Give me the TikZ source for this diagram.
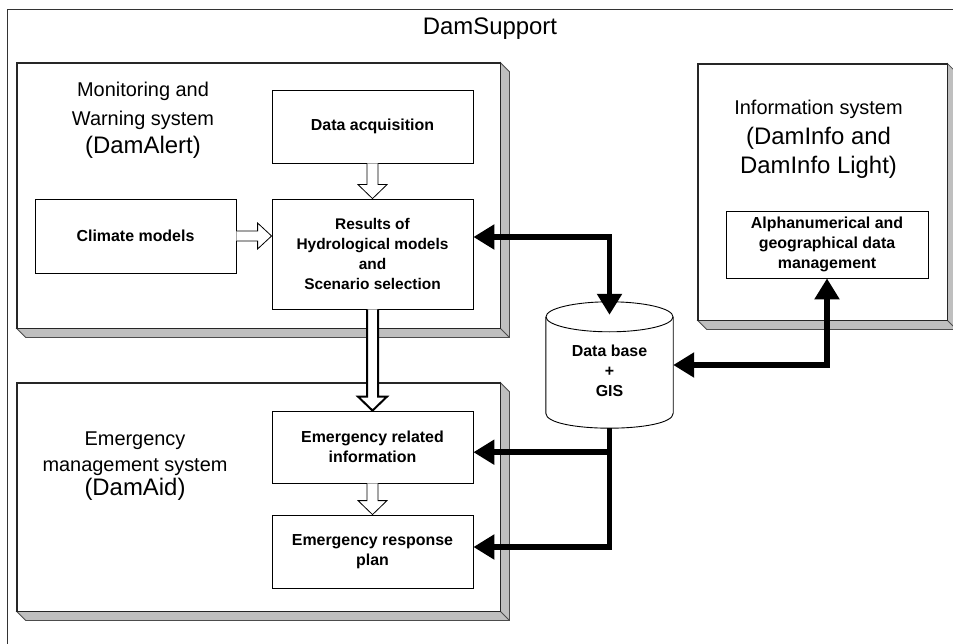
\documentclass[tikz,border=0pt]{standalone}
\usepackage{fontspec}
\setmainfont{Liberation Sans}
\usetikzlibrary{arrows.meta,calc}
\newcommand\boxshadow[1]{%
  \filldraw[shade3d] (#1.north east) -- ++(9,9) -- ($(#1.south east)+(9,9)$) -- ($(#1.south west)+(9,9)$) -- (#1.south west) -- (#1.south east) -- cycle;
  \draw[shade3d, fill=none] (#1.south east) -- ++(9,9);
  \draw[bigline] (#1.south west) rectangle (#1.north east);}
\newcommand\blockdown[3]{%
  \draw[blockarrow, line width=#3] let \p1=(#1), \p2=(#2) in
    (\x1-5.5bp,\y1) -- (\x1-5.5bp,\y2+14bp) -- (\x1-14.5bp,\y2+14bp) -- (\x1,\y2)
    -- (\x1+14.5bp,\y2+14bp) -- (\x1+5.5bp,\y2+14bp) -- (\x1+5.5bp,\y1);}
\newcommand\blockright[2]{%
  \draw[blockarrow] let \p1=(#1), \p2=(#2) in
    (\x1,\y1+5bp) -- (\x2-14bp,\y1+5bp) -- (\x2-14bp,\y1+13bp) -- (\x2,\y1)
    -- (\x2-14bp,\y1-13bp) -- (\x2-14bp,\y1-5bp) -- (\x1,\y1-5bp);}
\begin{document}
\begin{tikzpicture}[x=1bp,y=-1bp,
  box/.style={draw=black, line width=0.8bp, fill=white, inner sep=0pt, align=center,
    font=\fontsize{16}{20}\selectfont\bfseries},
  bigbox/.style={draw=black!85, line width=0.8bp, fill=white, inner sep=0pt},
  bigline/.style={draw=black!85, line width=0.8bp},
  shade3d/.style={fill=black!25, draw=black!70, line width=0.8bp, line join=miter},
  lbl/.style={anchor=base, inner sep=0pt, font=\fontsize{20}{24}\selectfont},
  lblbig/.style={anchor=base, inner sep=0pt, font=\fontsize{24}{28}\selectfont},
  tip/.tip={Triangle[length=21bp,width=24bp]},
  thickarrow/.style={line width=5.5bp, draw=black, line join=miter, -tip},
  thickboth/.style={line width=5.5bp, draw=black, line join=miter, tip-tip},
  blockarrow/.style={draw=black, fill=white, line width=0.8bp, line join=miter},
  cyl/.style={draw=black, line width=0.9bp},
]
\useasboundingbox (0,0) rectangle (953,644);
\fill[white] (0,0) rectangle (953,644);
% outer frame
\draw[draw=black!80, line width=0.8bp] (7,9) rectangle (1000,700);
\node[lblbig] (title) at (490,35) {DamSupport};

% big system boxes
\node[bigbox, minimum width=483bp, minimum height=265bp] (mon) at (258.5,195.5) {};
\node[bigbox, minimum width=249bp, minimum height=256bp] (info) at (822.5,192) {};
\node[bigbox, minimum width=483bp, minimum height=228bp] (emg) at (258.5,497) {};
\boxshadow{mon}
\boxshadow{info}
\boxshadow{emg}

% system labels
\node[lbl] (m1) at (143,97) {Monitoring and};
\node[lbl] (m2) at (143,126) {Warning system};
\node[lblbig] (m3) at (143,154) {(DamAlert)};
\node[lbl] (i1) at (818.5,115) {Information system};
\node[lblbig] (i2) at (818.5,145) {(DamInfo and};
\node[lblbig] (i3) at (818.5,174) {DamInfo Light)};
\node[lbl] (e1) at (135,445) {Emergency};
\node[lbl] (e2) at (135,471) {management system};
\node[lblbig] (e3) at (135,495) {(DamAid)};

% inner boxes
\node[box, minimum width=201bp, minimum height=73bp] (daq) at (372.5,126.5) {Data acquisition};
\node[box, minimum width=201bp, minimum height=74bp] (clim) at (135.5,236) {Climate models};
\node[box, minimum width=201bp, minimum height=110bp, font=\fontsize{15.5}{20}\selectfont\bfseries] (res) at (372.5,254)
  {Results of\\Hydrological models\\and\\Scenario selection};
\node[box, minimum width=202bp, minimum height=67bp] (alpha) at (827,244.5)
  {Alphanumerical and\\geographical data\\management};
\node[box, minimum width=201bp, minimum height=72bp] (eri) at (372.5,447) {Emergency related\\information};
\node[box, minimum width=201bp, minimum height=73bp] (erp) at (372.5,551.5) {Emergency response\\plan};

% database cylinder
\node[minimum width=127bp, minimum height=126bp, inner sep=0pt] (db) at (609.5,365) {};
\coordinate (tl) at ($(db.north west)+(0,15)$);
\coordinate (bl) at ($(db.south west)+(0,-15)$);
\coordinate (br) at ($(db.south east)+(0,-15)$);
\coordinate (tr) at ($(db.north east)+(0,15)$);
\draw[cyl] (tl) -- (bl) .. controls ($(bl)+(0,20)$) and ($(br)+(0,20)$) .. (br) -- (tr);
\draw[cyl] ($(db.north)+(0,15)$) ellipse [x radius=63.5, y radius=15];
\node[inner sep=0pt, align=center, font=\fontsize{16}{20}\selectfont\bfseries] (dbt) at (609.5,371) {Data base\\+\\GIS};

% hollow block arrows
\blockdown{daq.south}{res.north}{0.8bp}
\blockright{clim.east}{res.west}
\blockdown{res.south}{eri.north}{2bp}
\blockdown{eri.south}{erp.north}{0.8bp}

% thick connectors
\draw[thickboth] ([yshift=17bp]res.east) -| ([yshift=-13bp]db.north);
\draw[thickboth] (alpha.south) |- (db.east);
\coordinate (j1) at ($(db.south)+(0,24)$);
\draw[thickarrow] (db.south) |- ([yshift=4.5bp]erp.east);
\draw[thickarrow] (j1) -- (j1 -| eri.east);
\end{tikzpicture}
\end{document}
